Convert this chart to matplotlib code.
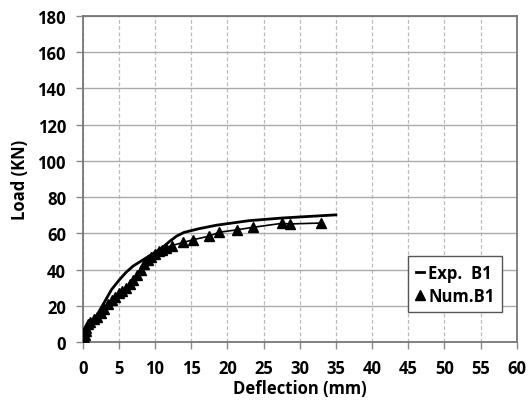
import matplotlib
matplotlib.use("Agg")
import matplotlib.pyplot as plt
from matplotlib.lines import Line2D

exp_x = [0, 0.3, 0.6, 1, 2, 3, 4, 5, 6, 7, 8, 9, 10, 11, 12, 13, 14, 16, 18.5, 23, 27.7, 35]
exp_y = [0, 3, 7, 10, 15, 22, 29, 34, 38.5, 42, 44.5, 47, 49.5, 52, 55.5, 58.5, 60.5, 62.5, 64.5, 67, 68.5, 70.2]

num_x = [0, 0.2, 0.3, 0.4, 0.5, 0.7, 1.0, 1.5, 2, 2.5, 3, 3.5, 4, 4.5, 5, 5.5, 6, 6.5, 7, 7.5, 8,
         8.5, 9, 9.5, 10, 10.5, 11, 11.5, 12.3, 13.9, 15.3, 17.4, 18.9, 21.4, 23.5, 27.5, 28.7, 33]
num_y = [0, 2, 4, 6, 8, 10, 11, 12.5, 14, 16, 18.5, 21, 23, 25, 27, 28, 30, 32, 34, 37, 40,
         43, 45.5, 47, 48.5, 50, 51, 52, 53.2, 55, 56.5, 58.4, 60.6, 62, 63.3, 65.5, 65.2, 65.7]

x_ticks = list(range(0, 61, 5))
y_ticks = list(range(0, 181, 20))

plt.rcParams['font.family'] = ['Open Sans', 'DejaVu Sans']
plt.rcParams['font.weight'] = 'bold'

fig = plt.figure(figsize=(5.29, 4.10), dpi=100)
ax = fig.add_axes([0.1563, 0.1634, 0.8204, 0.7951])

ax.plot(exp_x, exp_y, color='black', lw=2.0, zorder=3)
ax.plot(num_x, num_y, color='black', lw=1.2, marker='^', markersize=7, zorder=4)

ax.set_xlim(0, 60)
ax.set_ylim(0, 180)
ax.set_xticks(x_ticks)
ax.set_yticks(y_ticks)
ax.tick_params(axis='both', labelsize=12, direction='out', length=5, color='#888888', width=1, pad=7)
for lab in ax.get_xticklabels() + ax.get_yticklabels():
    lab.set_fontweight('bold')

ax.xaxis.grid(True, color='#bbbbbb', linestyle=(0, (3, 2)), lw=0.9)
ax.yaxis.grid(True, color='#aaaaaa', linestyle='-', lw=1.0)
ax.set_axisbelow(True)
for s in ax.spines.values():
    s.set_color('#777777')
    s.set_linewidth(1.3)

ax.set_xlabel('Deflection (mm)', fontsize=12, fontweight='bold', labelpad=2)
ax.set_ylabel('Load (KN)', fontsize=12, fontweight='bold', labelpad=6)

handles = [Line2D([], [], color='black', lw=2),
           Line2D([], [], color='black', lw=0, marker='^', markersize=7)]
leg = ax.legend(handles, ['Exp.  B1', 'Num.B1'], loc='lower right',
                bbox_to_anchor=(0.966, 0.092), handlelength=0.5, handletextpad=0.25,
                fancybox=False, framealpha=1, edgecolor='#555555',
                prop={'weight': 'bold', 'size': 12}, borderpad=0.45, labelspacing=0.3,
                borderaxespad=0.0)
leg.get_frame().set_linewidth(1.0)

fig.savefig('out.png', dpi=100)
